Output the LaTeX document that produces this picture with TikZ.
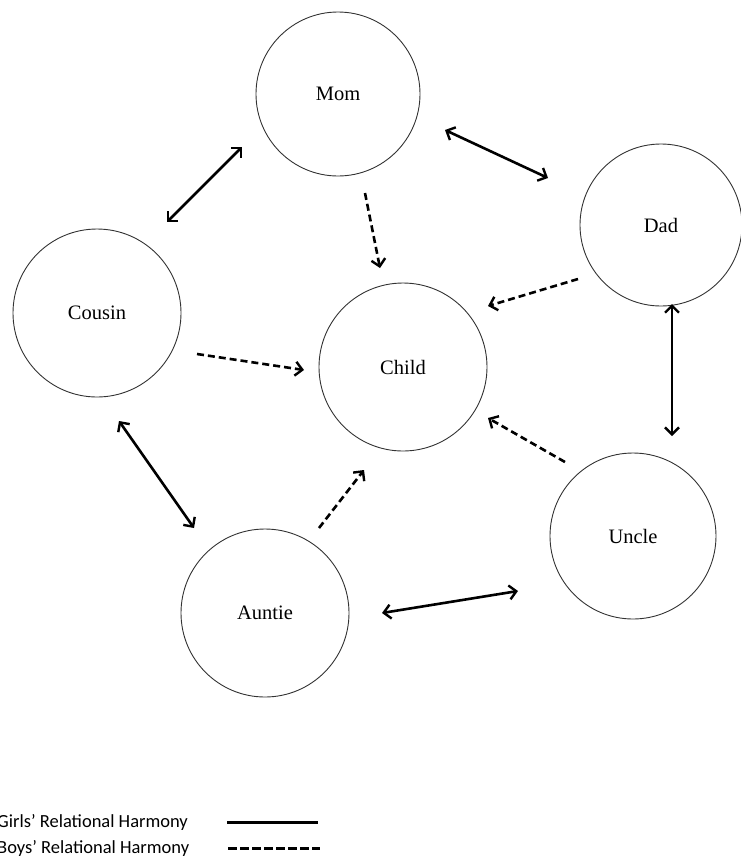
\documentclass[tikz,border=0pt]{standalone}
\usepackage{fontspec}
\setmainfont{Liberation Serif}
\newfontfamily\legendfont{Carlito}
\usetikzlibrary{arrows.meta}
\begin{document}
\begin{tikzpicture}[x=1pt,y=-1pt,
  person/.style={circle,draw=black!80,line width=0.9pt,minimum size=#1,inner sep=0pt,font=\fontsize{20.5}{22}\selectfont},
  harm/.style={line width=2.6pt,{Straight Barb[length=7pt,width=14pt,line width=2.4pt]}-{Straight Barb[length=7pt,width=14pt,line width=2.4pt]}},
  infl/.style={line width=2.6pt,dash pattern=on 7pt off 4pt,-{Straight Barb[length=7pt,width=14pt,line width=2.4pt]}},
  legtext/.style={font=\legendfont\fontsize{18.5}{20}\selectfont,anchor=west,inner sep=0pt}
]
\useasboundingbox (0,0) rectangle (741,863);
\node[person=164pt] (mom) at (338,94) {Mom};
\node[person=162pt] (dad) at (661,225) {Dad};
\node[person=168pt] (cousin) at (97,313) {Cousin};
\node[person=168pt] (child) at (403,367) {Child};
\node[person=166pt] (uncle) at (633,536) {Uncle};
\node[person=168pt] (auntie) at (265,613) {Auntie};

% coordinates for connector ends
\coordinate (cm1) at (167,222); \coordinate (cm2) at (242,147);
\coordinate (mc1) at (365,193); \coordinate (mc2) at (380,268);
\coordinate (md1) at (445,130); \coordinate (md2) at (548,178);
\coordinate (dc1) at (578,279); \coordinate (dc2) at (488,306);
\coordinate (cc1) at (197,354); \coordinate (cc2) at (304,370);
\coordinate (du1) at (672,304); \coordinate (du2) at (672,436);
\coordinate (uc1) at (565,462); \coordinate (uc2) at (488,418);
\coordinate (ca1) at (119,421); \coordinate (ca2) at (194,528);
\coordinate (ac1) at (319,528); \coordinate (ac2) at (364,470);
\coordinate (au1) at (382,613); \coordinate (au2) at (518,591);

\draw[harm] (cm1) -- (cm2);
\draw[infl] (mc1) -- (mc2);
\draw[harm] (md1) -- (md2);
\draw[infl] (dc1) -- (dc2);
\draw[infl] (cc1) -- (cc2);
\draw[harm] (du1) -- (du2);
\draw[infl] (uc1) -- (uc2);
\draw[harm] (ca1) -- (ca2);
\draw[infl] (ac1) -- (ac2);
\draw[harm] (au1) -- (au2);

% legend
\node[legtext] (lg1) at (-3,822) {Girls’ Relational Harmony};
\node[legtext] (lg2) at (-3,848) {Boys’ Relational Harmony};
\coordinate (ls1) at (227,822); \coordinate (ls2) at (318,822);
\coordinate (ld1) at (228,848); \coordinate (ld2) at (320,848);
\draw[line width=3pt] (ls1) -- (ls2);
\draw[line width=3pt,dash pattern=on 9pt off 3pt] (ld1) -- (ld2);
\end{tikzpicture}
\end{document}
